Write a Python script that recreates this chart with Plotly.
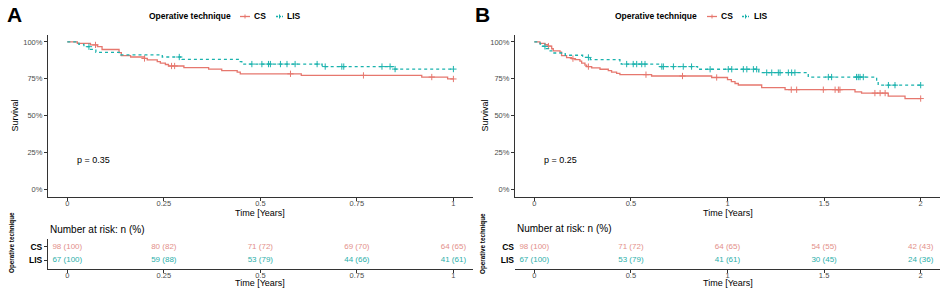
import numpy as np
import plotly.graph_objects as go

W, H = 945, 295

# ---------------- data ----------------
# Panel A (1 year)
cs_a_t = [0, 0.026, 0.06, 0.078, 0.09, 0.134, 0.14, 0.164, 0.2, 0.207, 0.233, 0.241, 0.254, 0.262,
          0.302, 0.366, 0.4, 0.44, 0.448, 0.606, 0.918, 0.985, 1.0]
cs_a_s = [100, 99.0, 98.0, 96.9, 94.9, 92.8, 90.8, 89.8, 88.8, 87.8, 86.7, 85.7, 84.7, 83.7,
          82.6, 81.6, 80.5, 79.5, 78.4, 77.3, 76.2, 74.9, 74.9]
cs_a_cens = [0.073, 0.2, 0.27, 0.278, 0.578, 0.767, 0.944, 1.0]

lis_a_t = [0, 0.03, 0.043, 0.058, 0.074, 0.138, 0.246, 0.297, 0.448, 0.452, 0.66, 0.845, 1.0]
lis_a_s = [100, 98.4, 96.8, 95.0, 93.0, 91.3, 89.8, 88.2, 86.6, 85.0, 83.3, 81.6, 81.6]
lis_a_cens = [0.056, 0.29, 0.478, 0.504, 0.521, 0.526, 0.552, 0.569, 0.59, 0.647, 0.668,
              0.711, 0.716, 0.815, 0.836, 0.849, 1.0]

# Panel B (2 years)
cs_b_t = [0, 0.029, 0.055, 0.072, 0.09, 0.098, 0.133, 0.141, 0.167, 0.193, 0.21, 0.236, 0.245,
          0.262, 0.271, 0.297, 0.34, 0.383, 0.4, 0.426, 0.443, 0.607, 0.918, 1.0, 1.02, 1.039,
          1.056, 1.177, 1.298, 1.66, 1.694, 1.832, 1.919, 2.0]
cs_b_s = [100, 99.1, 98.1, 97.2, 95.4, 94.0, 93.1, 90.7, 89.4, 88.7, 88.0, 87.0, 85.6,
          84.3, 83.3, 82.4, 81.5, 80.6, 79.6, 78.7, 77.8, 76.9, 75.9, 74.5, 73.1, 71.8,
          70.8, 69.0, 67.6, 66.2, 65.3, 63.2, 61.6, 61.6]
cs_b_cens = [0.073, 0.2, 0.28, 0.578, 0.767, 0.944, 1.33, 1.358, 1.496, 1.557, 1.574, 1.582,
             1.763, 1.79, 1.816, 2.0]

lis_b_t = [0, 0.03, 0.045, 0.058, 0.074, 0.09, 0.16, 0.25, 0.29, 0.443, 0.45, 0.65, 0.845,
           1.162, 1.418, 1.772, 1.78, 2.0]
lis_b_s = [100, 98.5, 97.0, 95.5, 94.0, 92.5, 91.0, 89.5, 88.0, 86.6, 85.0, 83.3, 81.5,
           79.2, 76.2, 73.3, 70.7, 70.7]
lis_b_cens = [0.055, 0.28, 0.478, 0.512, 0.53, 0.556, 0.573, 0.66, 0.668, 0.72, 0.771, 0.814,
              0.91, 1.004, 1.022, 1.082, 1.1, 1.134, 1.151, 1.203, 1.229, 1.263, 1.272, 1.315,
              1.332, 1.349, 1.522, 1.539, 1.668, 1.677, 1.686, 1.703, 1.833, 1.867, 2.0]

# Risk tables
risk_a_times = [0, 0.25, 0.5, 0.75, 1]
risk_a_cs_n = [98, 80, 71, 69, 64]
risk_a_cs_pct = [100, 82, 72, 70, 65]
risk_a_lis_n = [67, 59, 53, 44, 41]
risk_a_lis_pct = [100, 88, 79, 66, 61]

risk_b_times = [0, 0.5, 1, 1.5, 2]
risk_b_cs_n = [98, 71, 64, 54, 42]
risk_b_cs_pct = [100, 72, 65, 55, 43]
risk_b_lis_n = [67, 53, 41, 30, 24]
risk_b_lis_pct = [100, 79, 61, 45, 36]

a_ticks = [0, 0.25, 0.5, 0.75, 1]
a_ticktext = ["0", "0.25", "0.5", "0.75", "1"]
b_ticks = [0, 0.5, 1, 1.5, 2]
b_ticktext = ["0", "0.5", "1", "1.5", "2"]
y_ticks = [0, 25, 50, 75, 100]
y_ticktext = ["0%", "25%", "50%", "75%", "100%"]
groups = ["CS", "LIS"]

# ---------------- styling ----------------
RED = "#E6776E"
TEAL = "#1AB2AD"
RED_TXT = "#E3908A"
TEAL_TXT = "#2BAFAA"
AX = "#333333"
TICKC = "#4D4D4D"
FONT = "Liberation Sans, Arial, sans-serif"


def px(x):
    return x / W


def py(y):
    return 1 - y / H


fig = go.Figure()


def add_km(t, s, cens, color, dash, xa, ya):
    fig.add_trace(go.Scatter(
        x=t, y=s, mode="lines", xaxis=xa, yaxis=ya, showlegend=False, hoverinfo="skip",
        line=dict(color=color, width=1.3, dash=dash, shape="hv")))
    t_arr = np.array(t)
    s_arr = np.array(s)
    idx = np.searchsorted(t_arr, np.array(cens), side="right") - 1
    fig.add_trace(go.Scatter(
        x=cens, y=s_arr[idx], mode="markers", xaxis=xa, yaxis=ya, showlegend=False,
        hoverinfo="skip",
        marker=dict(symbol="cross-thin", size=4.5, color=color, line=dict(color=color, width=1))))


add_km(cs_a_t, cs_a_s, cs_a_cens, RED, "solid", "x", "y")
add_km(lis_a_t, lis_a_s, lis_a_cens, TEAL, "3px,3px", "x", "y")
add_km(cs_b_t, cs_b_s, cs_b_cens, RED, "solid", "x2", "y2")
add_km(lis_b_t, lis_b_s, lis_b_cens, TEAL, "3px,3px", "x2", "y2")


def add_risk(times, n, pct, row, color, xa, ya):
    fig.add_trace(go.Scatter(
        x=times, y=[row] * len(times), mode="text", xaxis=xa, yaxis=ya, showlegend=False,
        hoverinfo="skip", text=[f"{a} ({b})" for a, b in zip(n, pct)],
        textposition="middle center", textfont=dict(size=8, color=color, family=FONT)))


add_risk(risk_a_times, risk_a_cs_n, risk_a_cs_pct, 2, RED_TXT, "x3", "y3")
add_risk(risk_a_times, risk_a_lis_n, risk_a_lis_pct, 1, TEAL_TXT, "x3", "y3")
add_risk(risk_b_times, risk_b_cs_n, risk_b_cs_pct, 2, RED_TXT, "x4", "y4")
add_risk(risk_b_times, risk_b_lis_n, risk_b_lis_pct, 1, TEAL_TXT, "x4", "y4")

base_ax = dict(showline=True, linecolor=AX, linewidth=1.1, ticks="outside", ticklen=3,
               tickcolor=AX, tickwidth=1, tickfont=dict(size=7.5, color=TICKC, family=FONT),
               showgrid=False, zeroline=False, fixedrange=True)
xstand = dict(ticklabelstandoff=-4)

main_ydom = [py(196.7), py(34.6)]
risk_ydom = [py(268.5), py(238.5)]
a_xdom = [px(48), px(472.7)]
b_xdom = [px(515), px(940)]

fig.update_layout(
    width=W, height=H, margin=dict(l=0, r=0, t=0, b=0),
    paper_bgcolor="white", plot_bgcolor="white",
    font=dict(family=FONT, color="black"),
    xaxis=dict(base_ax, **xstand, domain=a_xdom, range=[-0.05, 1.05], tickvals=a_ticks,
               ticktext=a_ticktext, anchor="y"),
    yaxis=dict(base_ax, domain=main_ydom, range=[-5, 105], tickvals=y_ticks,
               ticktext=y_ticktext, anchor="x"),
    xaxis2=dict(base_ax, **xstand, domain=b_xdom, range=[-0.1, 2.1], tickvals=b_ticks,
                ticktext=b_ticktext, anchor="y2"),
    yaxis2=dict(base_ax, domain=main_ydom, range=[-5, 105], tickvals=y_ticks,
                ticktext=y_ticktext, anchor="x2"),
    xaxis3=dict(base_ax, **xstand, domain=a_xdom, range=[-0.05, 1.05], tickvals=a_ticks,
                ticktext=a_ticktext, anchor="y3"),
    yaxis3=dict(base_ax, domain=risk_ydom, range=[0.4, 2.6], tickvals=[2, 1],
                ticktext=[f"<b>{g}</b>" for g in groups],
                tickfont=dict(size=8.5, color="black", family=FONT), anchor="x3"),
    xaxis4=dict(base_ax, **xstand, domain=b_xdom, range=[-0.1, 2.1], tickvals=b_ticks,
                ticktext=b_ticktext, anchor="y4"),
    yaxis4=dict(base_ax, domain=risk_ydom, range=[0.4, 2.6], tickvals=[2, 1],
                ticktext=[f"<b>{g}</b>" for g in groups], showline=False, ticks="",
                tickfont=dict(size=8.5, color="black", family=FONT), anchor="x4"),
)

ann = []


def text(x, y, s, size, bold=False, color="black", xanchor="center", angle=0):
    ann.append(dict(x=px(x), y=py(y), xref="paper", yref="paper", text=f"<b>{s}</b>" if bold else s,
                    showarrow=False, xanchor=xanchor, yanchor="middle", textangle=angle,
                    font=dict(size=size, color=color, family=FONT)))


for lx, letter, sx, ox in [(14, "A", 15, 12), (482, "B", 485, 483)]:
    text(lx, 15, letter, 21, bold=True)
    text(sx, 115.5, "Survival", 9, angle=-90)
    text(ox, 243, "Operative technique", 6.3, bold=True, angle=-90)

# legend titles / keys
leg = [(147, 240, 252, 276, 285), (613, 707, 719, 742, 752)]
shapes = []
for (tx, k1, t1, k2, t2) in leg:
    text(tx, 16, "Operative technique", 8.5, bold=True, xanchor="left")
    text(t1, 16, "CS", 8.5, bold=True, xanchor="left")
    text(t2, 16, "LIS", 8.5, bold=True, xanchor="left")
    shapes.append(dict(type="line", xref="paper", yref="paper", x0=px(k1), x1=px(k1 + 10),
                       y0=py(16.5), y1=py(16.5), line=dict(color=RED, width=1.3)))
    shapes.append(dict(type="line", xref="paper", yref="paper", x0=px(k1 + 5), x1=px(k1 + 5),
                       y0=py(14.5), y1=py(18.5), line=dict(color=RED, width=1)))
    shapes.append(dict(type="line", xref="paper", yref="paper", x0=px(k2), x1=px(k2 + 7),
                       y0=py(16.5), y1=py(16.5), line=dict(color=TEAL, width=1.3, dash="2px,1px")))
    shapes.append(dict(type="line", xref="paper", yref="paper", x0=px(k2 + 3.5), x1=px(k2 + 3.5),
                       y0=py(14.5), y1=py(18.5), line=dict(color=TEAL, width=1)))

# p-values (data coords)
ann.append(dict(x=0.02, y=20, xref="x", yref="y", text="p = 0.35", showarrow=False,
                xanchor="left", yanchor="middle", font=dict(size=9, color="black", family=FONT)))
ann.append(dict(x=0.04, y=20, xref="x2", yref="y2", text="p = 0.25", showarrow=False,
                xanchor="left", yanchor="middle", font=dict(size=9, color="black", family=FONT)))

# axis titles
for cx in [(48 + 472.7) / 2, (515 + 940) / 2]:
    text(cx, 213.3, "Time [Years]", 9)
    text(cx, 283.3, "Time [Years]", 9)
text(47.5, 229.3, "Number at risk: n (%)", 10, xanchor="left")
text(514.5, 228.5, "Number at risk: n (%)", 10, xanchor="left")

fig.update_layout(annotations=ann, shapes=shapes)
fig.write_html("out.html", config={"displayModeBar": False},
               post_script="document.body.style.margin='0';document.body.style.padding='0';")
